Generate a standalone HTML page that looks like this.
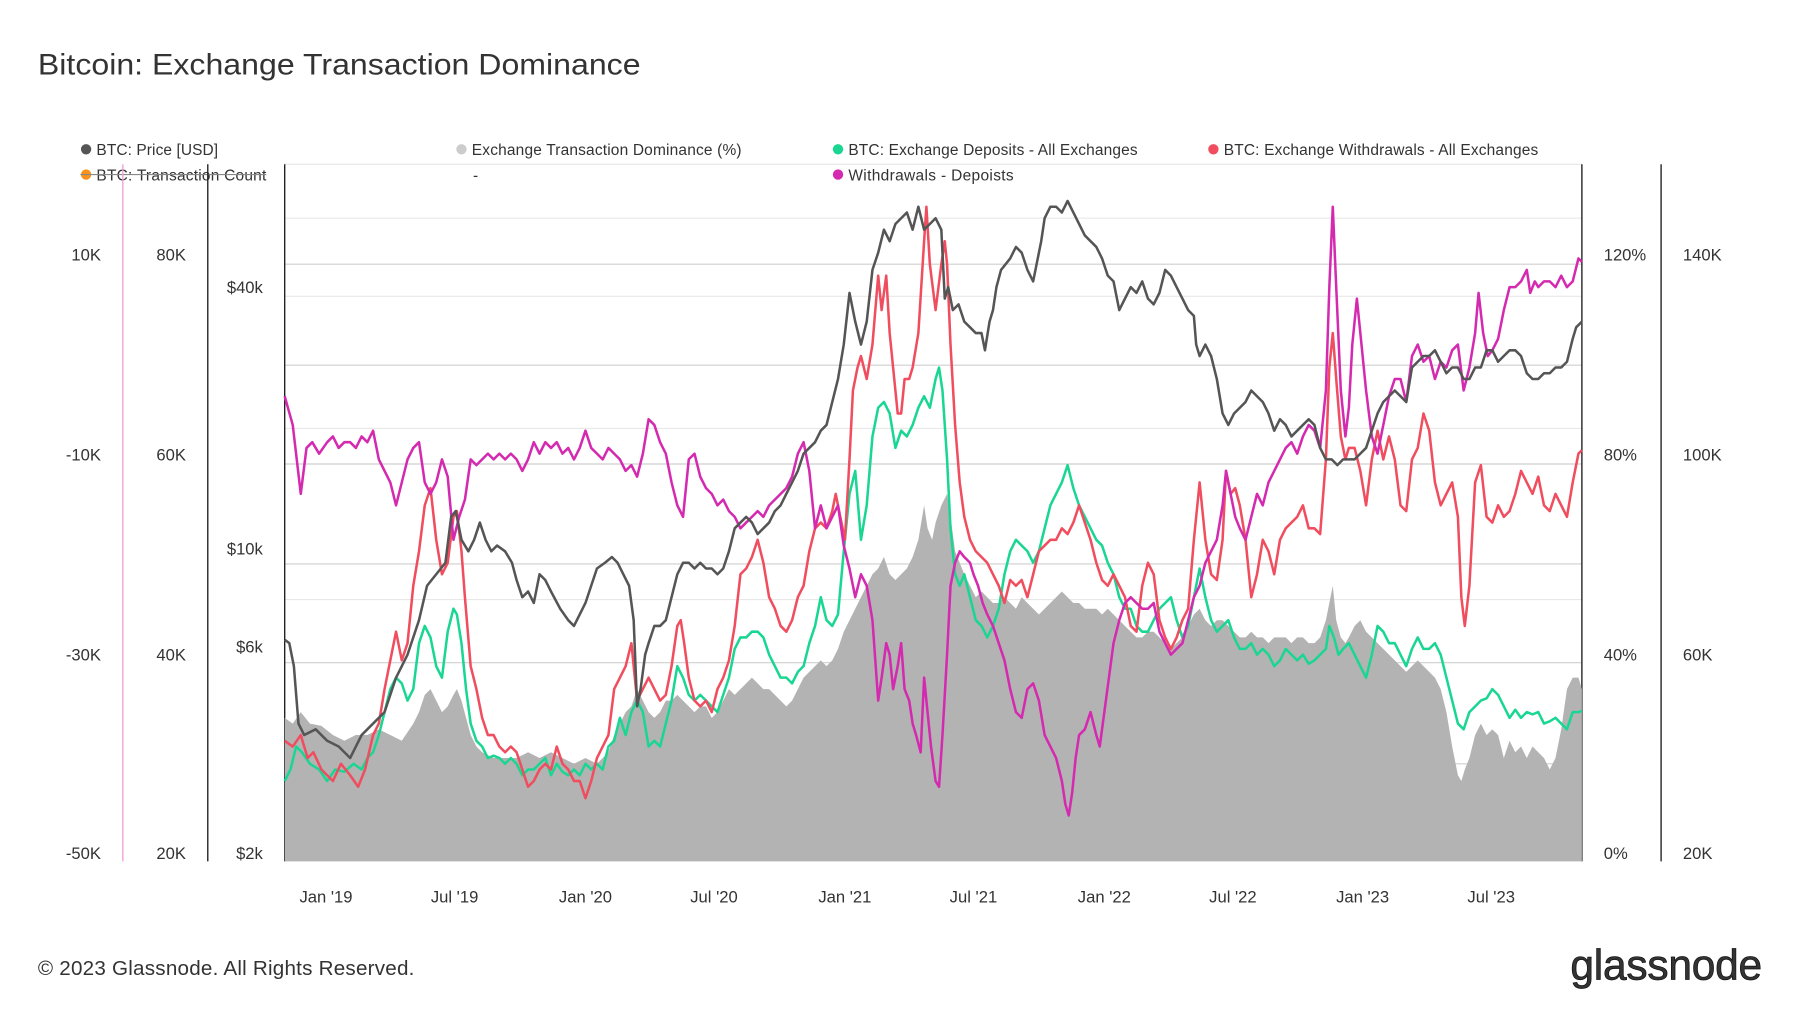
<!DOCTYPE html>
<html><head><meta charset="utf-8"><style>
html,body{margin:0;padding:0;background:#fff;width:1800px;height:1013px;overflow:hidden}
svg{display:block}
text{font-family:"Liberation Sans",sans-serif;fill:#333}
</style></head><body>
<svg width="1800" height="1013" viewBox="0 0 1568 882" preserveAspectRatio="none" xmlns="http://www.w3.org/2000/svg">
<text x="33" y="65" font-size="26" fill="#222" textLength="525" lengthAdjust="spacingAndGlyphs">Bitcoin: Exchange Transaction Dominance</text>
<!-- legend -->
<g font-size="13.5">
<circle cx="75" cy="130" r="4.5" fill="#555"/><text x="84" y="135" textLength="106">BTC: Price [USD]</text>
<circle cx="402" cy="130" r="4.5" fill="#ccc"/><text x="411" y="135" textLength="235">Exchange Transaction Dominance (%)</text>
<circle cx="730" cy="130" r="4.5" fill="#1ad693"/><text x="739" y="135" textLength="252">BTC: Exchange Deposits - All Exchanges</text>
<circle cx="1057" cy="130" r="4.5" fill="#f04d5f"/><text x="1066" y="135" textLength="274">BTC: Exchange Withdrawals - All Exchanges</text>
<circle cx="75" cy="152" r="4.5" fill="#f7931a"/><text x="84" y="157" fill="#888" textLength="148">BTC: Transaction Count</text>
<line x1="70" y1="152" x2="232" y2="152" stroke="#888" stroke-width="1"/>
<text x="412" y="157">-</text>
<circle cx="730" cy="152" r="4.5" fill="#d42ab0"/><text x="739" y="157" textLength="144">Withdrawals - Depoists</text>
</g>
<!-- grid -->
<g stroke="#e8e8e8" stroke-width="1">
<line x1="248" x2="1378" y1="190" y2="190"/><line x1="248" x2="1378" y1="258" y2="258"/>
<line x1="248" x2="1378" y1="373" y2="373"/><line x1="248" x2="1378" y1="522" y2="522"/>
<line x1="248" x2="1378" y1="143" y2="143"/>
</g>
<g stroke="#cfcfcf" stroke-width="1">
<line x1="248" x2="1378" y1="230" y2="230"/><line x1="248" x2="1378" y1="318" y2="318"/>
<line x1="248" x2="1378" y1="404" y2="404"/><line x1="248" x2="1378" y1="491" y2="491"/>
<line x1="248" x2="1378" y1="577" y2="577"/><line x1="248" x2="1378" y1="665" y2="665"/>
</g>
<!-- axes -->
<line x1="107" y1="143" x2="107" y2="750" stroke="#f2a0d8" stroke-width="1.2"/>
<line x1="181" y1="143" x2="181" y2="750" stroke="#222" stroke-width="1.2"/>
<line x1="248" y1="143" x2="248" y2="750" stroke="#222" stroke-width="1.2"/>
<line x1="1378" y1="143" x2="1378" y2="750" stroke="#222" stroke-width="1.2"/>
<line x1="1447" y1="143" x2="1447" y2="750" stroke="#222" stroke-width="1.2"/>
<g font-size="14.5" text-anchor="end">
<text x="88" y="227">10K</text><text x="88" y="401">-10K</text><text x="88" y="575">-30K</text><text x="88" y="748">-50K</text>
<text x="162" y="227">80K</text><text x="162" y="401">60K</text><text x="162" y="575">40K</text><text x="162" y="748">20K</text>
<text x="229" y="255">$40k</text><text x="229" y="483">$10k</text><text x="229" y="568">$6k</text><text x="229" y="748">$2k</text>
</g>
<g font-size="14.5">
<text x="1397" y="227">120%</text><text x="1397" y="401">80%</text><text x="1397" y="575">40%</text><text x="1397" y="748">0%</text>
<text x="1466" y="227">140K</text><text x="1466" y="401">100K</text><text x="1466" y="575">60K</text><text x="1466" y="748">20K</text>
</g>
<g font-size="14.5" text-anchor="middle">
<text x="284" y="786">Jan '19</text><text x="396" y="786">Jul '19</text><text x="510" y="786">Jan '20</text><text x="622" y="786">Jul '20</text><text x="736" y="786">Jan '21</text><text x="848" y="786">Jul '21</text><text x="962" y="786">Jan '22</text><text x="1074" y="786">Jul '22</text><text x="1187" y="786">Jan '23</text><text x="1299" y="786">Jul '23</text>
</g>
<!-- dominance area -->
<polygon fill="#b3b3b3" points="248,750 248,625 255,630 262,620 270,630 280,632 290,640 300,645 310,640 320,640 330,635 340,640 350,645 360,630 365,620 370,605 375,600 380,610 385,620 390,615 395,605 398,600 402,610 406,625 410,640 415,650 420,655 430,660 440,660 450,660 460,655 470,660 480,655 490,660 500,665 510,660 520,665 530,655 535,640 540,630 545,620 550,615 555,600 560,610 565,620 570,625 575,620 580,610 585,610 590,605 595,610 600,615 605,620 610,615 615,615 620,625 625,620 630,610 635,600 640,605 645,600 650,595 655,590 660,595 665,600 670,600 675,605 680,610 685,615 690,610 695,600 700,590 705,585 710,580 715,575 720,580 725,575 730,565 735,550 740,540 745,530 750,520 755,510 760,500 765,495 770,485 775,500 780,505 785,500 790,495 795,485 800,470 805,440 808,460 812,470 815,455 820,440 825,430 828,450 832,480 836,490 840,500 845,510 850,520 855,515 860,520 865,525 870,525 875,520 880,525 885,530 890,520 895,525 900,530 905,535 910,530 915,525 920,520 925,515 930,520 935,525 940,525 945,530 950,530 955,530 960,535 965,530 970,535 975,540 980,545 985,550 990,555 995,555 1000,550 1005,550 1010,555 1015,560 1020,565 1025,560 1030,555 1035,545 1040,535 1045,530 1050,540 1055,545 1060,540 1065,540 1070,545 1075,550 1080,555 1085,555 1090,550 1095,555 1100,555 1105,560 1110,555 1115,555 1120,555 1125,560 1130,555 1135,555 1140,560 1145,560 1150,555 1155,540 1158,525 1161,510 1164,540 1168,555 1172,560 1175,555 1180,545 1185,540 1190,550 1195,555 1200,560 1205,565 1210,570 1215,575 1220,580 1225,585 1230,580 1235,575 1240,580 1245,585 1250,590 1255,600 1260,620 1265,650 1270,675 1273,680 1276,670 1280,660 1285,640 1290,630 1295,640 1300,635 1305,640 1310,660 1315,645 1320,655 1325,650 1330,660 1335,650 1340,655 1345,660 1350,670 1355,660 1360,635 1365,600 1370,590 1375,590 1378,600 1378,750"/>
<g fill="none" stroke-width="2.2" stroke-linejoin="round">
<polyline stroke="#1ad693" points="248,680 253,670 258,650 263,655 270,665 278,670 285,680 292,670 300,672 308,665 315,670 320,660 325,655 330,640 335,620 340,600 345,590 350,595 355,610 360,600 365,560 370,545 375,555 380,580 385,590 390,550 395,530 398,535 402,560 406,600 410,630 415,645 420,650 425,660 430,658 435,660 440,665 445,660 450,665 455,675 460,670 465,670 470,665 475,660 480,675 485,665 490,672 495,675 500,670 505,675 510,665 515,670 520,665 525,670 530,650 535,645 540,625 545,640 550,620 555,610 560,620 565,650 570,645 575,650 580,630 585,610 590,580 595,590 600,605 605,610 610,605 615,610 620,615 625,620 630,605 635,590 640,565 645,555 650,555 655,550 660,550 665,555 670,570 675,580 680,590 685,590 690,595 695,585 700,580 705,560 710,545 715,520 720,540 725,545 730,535 735,480 740,430 745,410 750,470 755,440 760,380 765,355 770,350 775,360 780,390 785,375 790,380 795,370 800,355 805,345 810,355 815,330 818,320 821,340 825,400 828,460 832,500 836,510 840,500 845,520 850,540 855,545 860,555 865,545 870,530 875,500 880,480 885,470 890,475 895,480 900,490 905,480 910,460 915,440 920,430 925,420 930,405 935,425 940,440 945,450 950,460 955,470 960,475 965,490 970,500 975,520 980,530 985,530 990,545 995,550 1000,550 1005,540 1010,530 1015,525 1020,520 1025,540 1030,555 1035,545 1040,520 1045,495 1050,520 1055,540 1060,550 1065,545 1070,540 1075,555 1080,565 1085,565 1090,560 1095,570 1100,565 1105,570 1110,580 1115,575 1120,565 1125,570 1130,575 1135,570 1140,578 1145,575 1150,570 1155,565 1158,545 1162,555 1166,570 1170,565 1175,560 1180,570 1185,580 1190,590 1195,570 1200,545 1205,550 1210,560 1215,560 1220,570 1225,580 1230,565 1235,555 1240,565 1245,565 1250,560 1255,570 1260,590 1265,610 1270,630 1275,635 1280,620 1285,615 1290,610 1295,608 1300,600 1305,605 1310,615 1315,625 1320,618 1325,625 1330,620 1335,622 1340,620 1345,630 1350,628 1355,625 1360,630 1365,635 1370,620 1375,620 1378,619"/>
<polyline stroke="#f04d5f" points="248,645 255,650 262,640 268,660 273,655 280,670 290,680 297,665 305,675 312,685 318,670 325,640 330,630 335,600 340,575 345,550 350,575 355,560 360,510 365,480 370,440 375,425 380,470 385,500 390,490 395,450 398,445 402,480 405,520 410,580 415,600 420,625 425,640 430,640 435,650 440,655 445,650 450,655 455,670 460,685 465,680 470,670 475,665 480,670 485,650 490,665 495,670 500,680 505,680 510,695 515,680 520,660 525,650 530,640 535,600 540,590 545,580 550,560 555,610 560,600 565,590 570,600 575,610 580,605 585,580 590,545 593,540 596,560 600,590 605,610 610,615 615,610 620,620 625,600 630,590 635,575 640,545 645,500 650,495 655,485 660,470 665,490 670,520 675,530 680,545 685,550 690,540 695,520 700,510 705,480 710,460 715,455 720,460 725,445 728,430 732,450 736,470 740,400 743,340 747,320 750,310 755,330 760,300 765,240 768,270 772,240 775,290 779,330 782,360 785,360 788,330 792,330 795,320 800,290 805,210 807,180 810,230 815,270 820,230 823,210 825,230 828,300 832,370 836,420 840,450 845,470 850,480 855,485 860,490 865,500 870,510 875,525 880,505 885,510 890,505 895,520 900,500 905,480 910,475 915,470 920,470 925,460 930,465 935,455 940,440 945,455 950,470 955,490 960,505 965,510 970,500 975,510 980,520 985,545 990,550 995,510 1000,490 1005,500 1010,540 1015,555 1020,565 1025,555 1030,540 1035,530 1040,470 1045,420 1050,470 1055,500 1060,505 1065,470 1068,410 1072,430 1076,425 1080,440 1085,470 1090,520 1095,500 1100,470 1105,480 1110,500 1115,470 1120,460 1125,455 1130,450 1135,440 1140,460 1145,460 1150,465 1155,400 1158,320 1161,290 1164,330 1168,380 1172,400 1175,390 1180,390 1185,410 1190,440 1195,400 1200,375 1205,400 1210,380 1215,400 1220,440 1225,445 1230,400 1235,390 1240,360 1245,375 1250,420 1255,440 1260,430 1265,420 1270,450 1273,520 1276,545 1280,510 1285,420 1290,405 1295,450 1300,455 1305,440 1310,450 1315,445 1320,430 1325,410 1330,420 1335,430 1340,415 1345,440 1350,445 1355,430 1360,440 1365,450 1370,420 1375,395 1378,392"/>
<polyline stroke="#d42ab0" points="248,345 255,370 262,430 267,390 272,385 278,395 285,385 290,380 295,390 300,385 305,385 310,390 315,380 320,385 325,375 330,400 335,410 340,420 345,440 350,420 355,400 360,390 365,385 370,420 375,430 380,420 385,400 390,415 395,470 400,450 405,435 410,400 415,405 420,400 425,395 430,400 435,395 440,400 445,395 450,400 455,410 460,400 465,385 470,395 475,385 480,390 485,385 490,395 495,390 500,400 505,390 510,375 515,390 520,395 525,400 530,390 535,395 540,400 545,410 550,405 555,415 560,395 565,365 570,370 575,385 580,395 585,420 590,440 595,450 600,400 605,395 610,415 615,425 620,430 625,440 630,435 635,445 640,450 645,460 650,455 655,450 660,445 665,450 670,440 675,435 680,430 685,425 690,415 695,395 700,385 705,410 710,460 715,440 720,460 725,450 730,440 735,475 740,495 745,520 750,500 755,510 760,540 765,610 768,590 772,560 775,570 778,600 782,580 785,560 788,600 792,610 795,630 798,640 802,655 805,590 808,620 811,650 815,680 818,685 821,640 825,570 828,510 832,490 836,480 840,485 845,490 848,500 852,510 856,525 860,535 865,545 870,560 875,575 880,600 885,620 890,625 895,600 900,595 905,610 910,640 915,650 920,660 925,680 928,700 931,710 934,690 937,660 940,640 945,635 950,620 955,640 958,650 962,620 966,590 970,560 975,540 980,525 985,520 990,525 995,530 1000,530 1005,525 1010,550 1015,560 1020,570 1025,565 1030,560 1035,540 1040,520 1045,510 1050,490 1055,480 1060,470 1065,440 1068,410 1072,430 1076,450 1080,460 1085,470 1090,450 1095,430 1100,440 1105,420 1110,410 1115,400 1120,390 1125,385 1130,395 1135,380 1140,370 1145,375 1150,390 1155,340 1158,250 1161,180 1164,250 1168,340 1172,380 1175,355 1178,300 1182,260 1186,300 1190,340 1195,380 1200,395 1205,370 1210,345 1215,330 1220,330 1225,350 1230,310 1235,300 1240,315 1245,310 1250,330 1255,315 1260,320 1265,305 1270,300 1275,340 1280,320 1285,290 1288,255 1292,290 1296,310 1300,305 1305,295 1310,270 1315,250 1320,250 1325,245 1330,235 1333,255 1337,245 1340,250 1345,245 1350,245 1355,250 1360,240 1365,250 1370,245 1375,225 1378,228"/>
<polyline stroke="#555" points="248,557 252,560 256,580 260,630 265,640 275,635 285,645 295,650 305,660 315,640 325,630 335,620 345,590 355,570 365,540 372,510 380,500 388,490 393,450 397,445 402,470 408,480 413,470 418,455 423,470 428,480 433,475 440,480 446,490 450,505 455,520 460,515 465,525 470,500 475,505 480,515 488,530 495,540 500,545 505,535 510,525 515,510 520,495 527,490 533,485 538,490 543,500 548,510 552,540 555,615 558,600 562,570 565,560 570,545 575,545 580,540 585,520 590,500 595,490 600,490 605,495 610,490 615,495 620,495 625,500 630,495 635,480 640,460 645,455 650,450 655,455 660,465 665,460 670,455 675,445 680,440 685,430 690,420 695,410 700,395 705,390 710,385 715,375 720,370 725,350 730,330 735,300 740,255 745,280 750,300 755,280 760,235 765,220 770,200 775,210 780,195 785,190 790,185 795,200 800,180 805,200 810,195 815,190 820,200 823,260 826,250 830,270 835,265 840,280 845,285 850,290 855,290 858,305 862,280 865,270 868,250 872,235 876,230 880,225 885,215 890,220 895,235 900,245 903,230 907,210 910,190 915,180 920,180 925,185 930,175 935,185 940,195 945,205 950,210 955,215 960,225 965,240 970,245 975,270 980,260 985,250 990,255 995,245 1000,260 1005,265 1010,255 1015,235 1020,240 1025,250 1030,260 1035,270 1040,275 1042,300 1045,310 1050,300 1055,310 1060,330 1065,360 1070,370 1075,360 1080,355 1085,350 1090,340 1095,345 1100,350 1105,360 1110,375 1115,365 1120,370 1125,380 1130,375 1135,370 1140,365 1145,370 1150,390 1155,400 1160,400 1165,405 1170,400 1175,400 1180,400 1185,395 1190,390 1195,375 1200,360 1205,350 1210,345 1215,340 1220,345 1225,350 1230,320 1235,315 1240,310 1245,310 1250,305 1255,315 1260,325 1265,320 1270,320 1275,330 1280,330 1285,320 1290,320 1295,305 1300,305 1305,315 1310,310 1315,305 1320,305 1325,310 1330,325 1335,330 1340,330 1345,325 1350,325 1355,320 1360,320 1365,315 1370,295 1373,285 1378,280"/>
</g>
<text x="33" y="849" font-size="18" fill="#777" textLength="328">© 2023 Glassnode. All Rights Reserved.</text>
<text x="1535" y="853" font-size="37" text-anchor="end" fill="#111" stroke="#111" stroke-width="0.6" textLength="167">glassnode</text>
</svg>
</body></html>
